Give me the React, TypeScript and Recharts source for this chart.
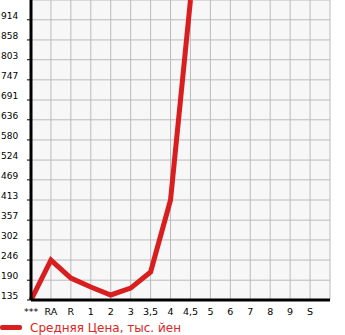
import React from "react";
import { LineChart, Line, XAxis, YAxis, CartesianGrid, Legend } from "recharts";

const categories = ["***", "RA", "R", "1", "2", "3", "3,5", "4", "4,5", "5", "6", "7", "8", "9", "S", ""];
const prices = [135, 246, 196, 171, 149, 168, 213, 413, 969, null, null, null, null, null, null, null];
const yTicks = [135, 190, 246, 302, 357, 413, 469, 524, 580, 636, 691, 747, 803, 858, 914];
const seriesName = "Средняя Цена, тыс. йен";

const data = categories.map((c, i) => ({ idx: i, label: c, price: prices[i] }));
const xTicks = categories.map((_, i) => i);

const YTick = (props: any) => {
  const { y, payload } = props;
  return (
    <text x={1} y={y} dy={-1} textAnchor="start" fontSize={9} fill="#000" fontFamily="DejaVu Sans">
      {payload.value}
    </text>
  );
};

const LegendContent = () => (
  <div style={{ display: "flex", alignItems: "center", height: 15 }}>
    <div style={{ width: 22, height: 5, background: "#d81e1e", borderRadius: 2 }} />
    <span style={{ marginLeft: 8, color: "#e02424", fontSize: 12, fontFamily: "DejaVu Sans" }}>{seriesName}</span>
  </div>
);

const App = () => {
  return (
    <div style={{ position: "absolute", left: 0, top: 0, width: 345, height: 335, background: "#fff" }}>
      <LineChart width={345} height={335} data={data} margin={{ top: 0, right: 15, left: 0, bottom: 0 }}>
        <CartesianGrid stroke="#bbbbbb" strokeWidth={1} fill="#f7f7f7" />
        <XAxis
          dataKey="idx"
          type="number"
          domain={[0, 15]}
          ticks={xTicks}
          tickFormatter={(v: number) => categories[v]}
          interval={0}
          height={20}
          axisLine={{ stroke: "#000", strokeWidth: 3 }}
          tickLine={false}
          tick={{ fontSize: 9.5, fill: "#000", fontFamily: "DejaVu Sans" }}
        />
        <YAxis
          type="number"
          domain={[135, 969]}
          ticks={yTicks}
          allowDataOverflow
          width={31}
          tickSize={4}
          interval={0}
          axisLine={{ stroke: "#000", strokeWidth: 3 }}
          tickLine={{ stroke: "#000" }}
          tick={<YTick />}
        />
        <Legend verticalAlign="bottom" align="left" content={<LegendContent />} wrapperStyle={{ left: 0, bottom: 0, width: 345, height: 15 }} />
        <Line
          dataKey="price"
          name={seriesName}
          stroke="#d81e1e"
          strokeWidth={5}
          dot={false}
          isAnimationActive={false}
          connectNulls={false}
        />
      </LineChart>
    </div>
  );
};

export default App;
